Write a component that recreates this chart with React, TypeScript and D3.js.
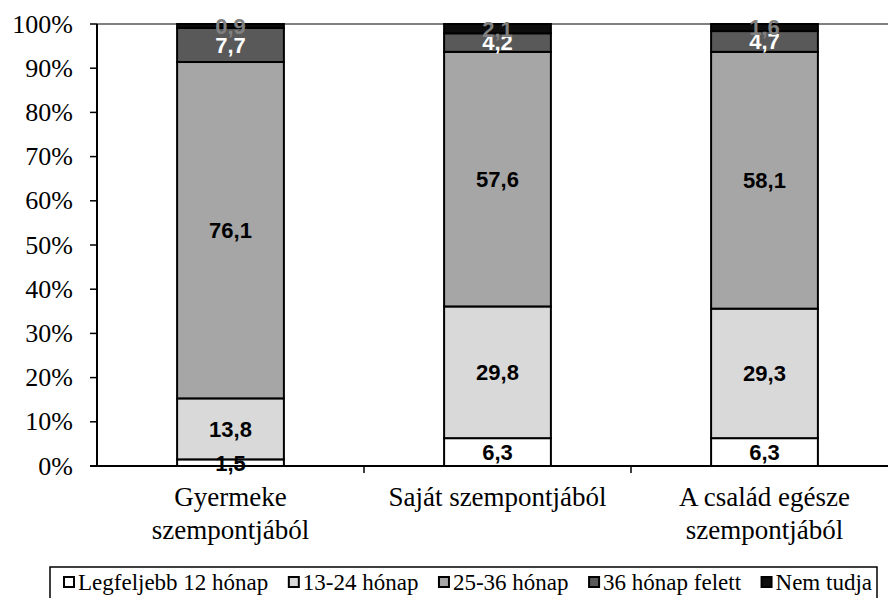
import * as d3 from "d3";
import { useEffect, useRef } from "react";

const categories = ["Gyermeke\nszempontjából", "Saját szempontjából", "A család egésze\nszempontjából"];
const seriesNames = ["Legfeljebb 12 hónap", "13-24 hónap", "25-36 hónap", "36 hónap felett", "Nem tudja"];
const upTo12 = [1.5, 6.3, 6.3];
const m13to24 = [13.8, 29.8, 29.3];
const m25to36 = [76.1, 57.6, 58.1];
const over36 = [7.7, 4.2, 4.7];
const dontKnow = [0.9, 2.1, 1.6];
const yTicks = [0, 10, 20, 30, 40, 50, 60, 70, 80, 90, 100];

const fills = ["#ffffff", "#d9d9d9", "#a6a6a6", "#595959", "#0d0d0d"];
const labelColors = ["#000", "#000", "#000", "#fff", "#808080"];
const serif = "'Liberation Serif', 'Times New Roman', 'DejaVu Serif', serif";
const sans = "'Liberation Sans', Arial, sans-serif";

export default function App() {
  const ref = useRef<SVGSVGElement | null>(null);

  useEffect(() => {
    if (!ref.current) return;
    const width = 888;
    const margin = { top: 24, left: 97, bottom: 466 };

    const series = [upTo12, m13to24, m25to36, over36, dontKnow];
    const rows = categories.map((c, i) => {
      const r: any = { cat: c };
      seriesNames.forEach((s, j) => (r[s] = series[j][i]));
      return r;
    });
    const stacked = d3.stack<any>().keys(seriesNames)(rows);

    const x = d3
      .scaleBand()
      .domain(categories)
      .range([margin.left, 898])
      .paddingInner(0.6)
      .paddingOuter(0.3);
    const y = d3.scaleLinear().domain([0, 100]).range([margin.bottom, margin.top]);

    const svg = d3.select(ref.current);
    svg.selectAll("*").remove();

    // top border of plot area
    svg
      .append("line")
      .attr("x1", margin.left)
      .attr("x2", width)
      .attr("y1", y(100))
      .attr("y2", y(100))
      .attr("stroke", "#808080")
      .attr("stroke-width", 2);

    // bars
    stacked.forEach((layer, j) => {
      svg
        .append("g")
        .selectAll("rect")
        .data(layer)
        .join("rect")
        .attr("x", (d: any) => x(d.data.cat)!)
        .attr("y", (d) => y(d[1]))
        .attr("width", x.bandwidth())
        .attr("height", (d) => y(d[0]) - y(d[1]))
        .attr("fill", fills[j])
        .attr("stroke", "#000")
        .attr("stroke-width", 2);
    });

    // value labels
    stacked.forEach((layer, j) => {
      svg
        .append("g")
        .selectAll("text")
        .data(layer)
        .join("text")
        .attr("x", (d: any) => x(d.data.cat)! + x.bandwidth() / 2)
        .attr("y", (d) => (y(d[0]) + y(d[1])) / 2)
        .attr("dy", "0.36em")
        .attr("text-anchor", "middle")
        .style("font-family", sans)
        .attr("font-weight", "bold")
        .attr("font-size", 22)
        .attr("fill", labelColors[j])
        .text((d) => String(d3.format(".1f")(d[1] - d[0])).replace(".", ","));
    });

    // y axis
    const yAxis = svg.append("g");
    yAxis
      .append("line")
      .attr("x1", margin.left)
      .attr("x2", margin.left)
      .attr("y1", y(100))
      .attr("y2", y(0))
      .attr("stroke", "#000")
      .attr("stroke-width", 2);
    yTicks.forEach((t) => {
      yAxis
        .append("line")
        .attr("x1", margin.left - 7)
        .attr("x2", margin.left)
        .attr("y1", y(t))
        .attr("y2", y(t))
        .attr("stroke", "#000")
        .attr("stroke-width", 1.5);
      yAxis
        .append("text")
        .attr("x", 73)
        .attr("y", y(t))
        .attr("dy", "0.33em")
        .attr("text-anchor", "end")
        .style("font-family", serif)
        .attr("font-size", 26)
        .attr("fill", "#000")
        .text(`${t}%`);
    });

    // x axis
    const xAxis = svg.append("g");
    xAxis
      .append("line")
      .attr("x1", margin.left - 7)
      .attr("x2", width)
      .attr("y1", y(0))
      .attr("y2", y(0))
      .attr("stroke", "#000")
      .attr("stroke-width", 2);
    const step = x.step();
    categories.forEach((c, i) => {
      if (i > 0) {
        const tx = x(c)! - (step - x.bandwidth()) / 2;
        xAxis
          .append("line")
          .attr("x1", tx)
          .attr("x2", tx)
          .attr("y1", y(0))
          .attr("y2", y(0) + 7)
          .attr("stroke", "#000")
          .attr("stroke-width", 1.5);
      }
      const t = xAxis
        .append("text")
        .attr("text-anchor", "middle")
        .style("font-family", serif)
        .attr("font-size", 27)
        .attr("fill", "#000");
      c.split("\n").forEach((line, k) => {
        t.append("tspan")
          .attr("x", x(c)! + x.bandwidth() / 2)
          .attr("y", 506 + k * 33)
          .text(line);
      });
    });

    // legend: spread items over the box like the original
    const legend = svg.append("g");
    legend
      .append("rect")
      .attr("x", 50)
      .attr("y", 567)
      .attr("width", 827)
      .attr("height", 40)
      .attr("fill", "#fff")
      .attr("stroke", "#000")
      .attr("stroke-width", 1.5);
    const texts = seriesNames.map((s) =>
      legend
        .append("text")
        .attr("y", 590)
        .style("font-family", serif)
        .attr("font-size", 23)
        .attr("fill", "#000")
        .text(s)
    );
    const widths = texts.map((t) => (t.node() as SVGTextElement).getComputedTextLength());
    const startX = 64;
    const endX = 872;
    const gap = Math.max(8, (endX - startX - d3.sum(widths) - 14 * seriesNames.length) / (seriesNames.length - 1));
    let cx = startX;
    seriesNames.forEach((s, j) => {
      legend
        .append("rect")
        .attr("x", cx)
        .attr("y", 577)
        .attr("width", 10)
        .attr("height", 10)
        .attr("fill", fills[j])
        .attr("stroke", "#000")
        .attr("stroke-width", 2);
      texts[j].attr("x", cx + 14);
      cx += 14 + widths[j] + gap;
    });
  }, []);

  return (
    <svg
      ref={ref}
      width={888}
      height={598}
      style={{ position: "absolute", left: 0, top: 0, background: "#fff" }}
    ></svg>
  );
}
